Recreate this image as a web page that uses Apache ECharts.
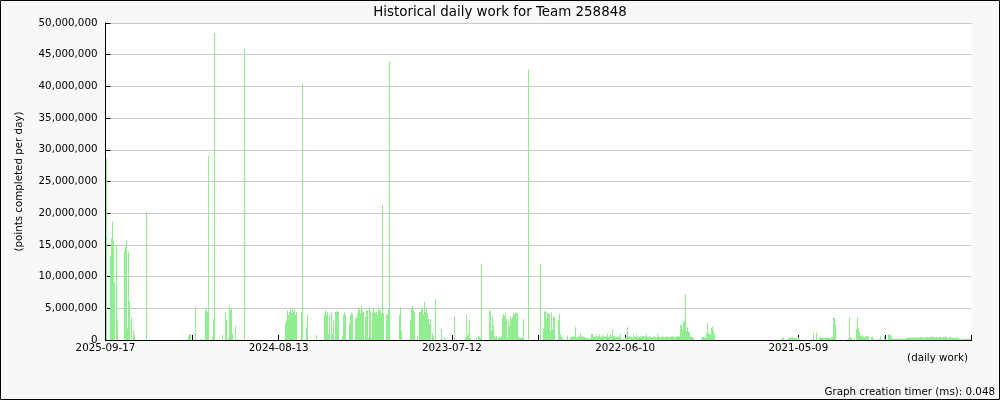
<!DOCTYPE html>
<html>
<head>
<meta charset="utf-8">
<script src="https://cdn.jsdelivr.net/npm/echarts@6/dist/echarts.min.js"></script>
<style>
  html, body { margin: 0; padding: 0; background: #f8f8f8; }
  #chart { width: 1000px; height: 400px; }
</style>
</head>
<body>
<div id="chart"></div>
<script>
// ---- Data ----
// The x axis is split into 866 sample bins (one per plotted column),
// running from 2025-09-17 (bin 0) backwards in time.
// Each run: [first bin, [daily work in millions of points for consecutive bins]]
const titleText = 'Historical daily work for Team 258848';
const xTickLabels = ['2025-09-17', '2024-08-13', '2023-07-12', '2022-06-10', '2021-05-09'];
const totalBins = 866;
const xTickCount = 10;
const yMax = 50000000;
const yStep = 5000000;

const work2025 = [
  [1, [28.7]],
  [5, [13.3, 16.0, 18.75, 15.6, 9.06, 0, 15.0, 3.1]],
  [19, [14.06, 14.7, 15.8, 1.8, 13.96, 6.1, 0, 3.5, 0, 1.56, 0.83]],
  [41, [20.3]],
  [83, [0.5, 0.94, 0.94]],
  [90, [5.3]],
  [96, [0.2]],
  [100, [4.7, 4.9, 4.4, 29.0]],
  [107, [0.5, 3.3, 48.4]],
  [117, [0.8]],
  [120, [4.4, 3.1, 0, 0.3, 5.3, 4.7, 4.9, 1.0]],
  [130, [2.2]],
  [139, [45.85]]
];
const work2024 = [
  [179, [0.1, 2.7, 3.2, 4.7, 3.9, 4.4, 4.8, 4.2, 5.0, 4.5, 4.8, 4.0, 4.4]],
  [196, [4.4, 40.4]],
  [201, [2.0, 4.0]],
  [211, [0.8]],
  [219, [4.2, 4.7, 4.0, 4.4, 1.05, 3.9, 0, 4.3, 1.0, 3.05, 0, 4.4, 4.5, 4.5, 4.4]],
  [237, [0.7, 3.9, 4.4, 4.0]],
  [244, [2.6, 3.9, 4.3, 4.1]],
  [250, [3.3, 3.6, 4.2, 5.2, 4.8, 4.2, 5.4, 4.7, 4.4, 0, 3.6, 4.8, 4.6, 0.4, 5.2, 4.6, 0.3, 4.3, 5.0, 4.4,
         4.3, 4.5, 3.9, 5.3, 4.6, 4.7, 4.2, 21.3, 4.2, 0, 0, 4.0, 4.1, 4.8, 44.0]],
  [294, [4.0, 5.2, 1.5]],
  [305, [3.2, 5.0, 5.4, 4.7, 4.4]],
  [312, [0.6, 0, 4.4, 4.4, 5.0, 5.0, 4.1, 6.0, 4.4, 5.0, 4.2, 3.3, 2.5, 3.3, 0, 1.05, 0.6, 0, 6.5]],
  [336, [1.7, 0.2, 0, 0.4, 0.2]],
  [349, [3.8]]
];
const work2023 = [
  [360, [0.4, 4.0, 0.7, 1.05, 3.05, 0.3]],
  [371, [0.4, 0, 0.6, 0.6, 0.3, 12.0]],
  [384, [4.6, 4.6, 1.5, 3.7, 2.3, 0.6, 0.4, 0.6, 0, 0.4, 0.6, 0.3, 0.7, 3.5, 4.1, 3.8, 4.2, 3.3, 0.4, 3.05,
         2.2, 3.7, 3.3, 3.6, 4.3, 4.0, 4.3, 4.3, 4.2, 0.5, 0.4, 0.3, 0.4, 0.4, 3.3]],
  [423, [42.7]],
  [435, [12.0, 0, 0, 1.8, 4.5, 4.5, 3.2, 4.3, 4.1, 4.1, 1.5, 4.3, 1.7, 3.7, 3.7]],
  [453, [3.2, 4.1, 0.95, 0.5, 0.4]],
  [462, [0.7]]
];
const work2022 = [
  [465, [0.4, 0.5, 0.6, 0.5, 0.6, 2.0, 0.4, 0.5, 0.6, 0.5, 1.05, 0.6, 0.5, 0.6, 0.5, 0.4, 0.3, 0.2, 0.3, 0.2,
         0.2, 0.95, 0.95, 0.5, 0.6, 0.5, 0.85, 0.5, 0.6, 0.85, 0.5, 0.5, 0.85, 0.6, 0.6, 0.5, 0.6, 1.05, 0.5, 0.5,
         0.95, 0.6, 1.7, 0.6, 0.6, 0.5, 0.5, 0.5, 0.5, 0.6, 0.95, 0.2]],
  [518, [0.2, 0, 0.4, 0.5, 2.0, 0.6, 0.6, 0.5, 0.5, 0.3, 0.85, 0.5, 0.5, 0.85, 0.5, 0.5, 0.5, 0.6, 0.6, 0.6,
         0.6, 0.6, 0.6, 0.95, 0.5, 0.45, 0.5, 0.55, 0.5, 0.4, 0.5, 0.55, 0.5, 0.45, 0.95, 0.5, 0.55, 0.45, 0.5, 0.6,
         0.5, 0.45, 0.5, 0.55, 0.5, 0.45, 0.5, 0.5, 0.55, 0.6, 0.5, 0.45, 0.5, 0.55, 0.6, 0.5, 0.6, 2.3, 2.6, 1.7,
         2.9, 3.05, 7.2, 1.4, 2.0, 1.3, 1.3, 0.5, 0.5, 0.5, 0.3]],
  [596, [0.3, 0.5, 0.5, 0.5, 0.3, 1.05, 2.7, 0.95, 0.95, 0.85, 1.9, 2.1, 1.4, 0.95]]
];
const work2021 = [
  [677, [0.4, 0.3]],
  [683, [0.3, 0.4, 0.4, 0.3, 0.5, 0.3, 0.3, 0.3, 0.3, 0, 0.4, 0.2]],
  [706, [0.1, 0, 1.15, 0, 0, 1.15, 0, 0.2, 0.3, 0.5, 0.3, 0.4, 0.3, 0.3, 0.4, 0.3, 0.3, 0.4, 0.3, 0.3,
         0.4, 0.5, 3.6, 3.5, 2.5]],
  [742, [0.1, 0.2, 3.5, 0.4, 0.3, 0.1, 0, 0.3, 0, 1.7, 3.5, 1.9, 1.3, 0.7, 0.6, 0.7, 0.5, 0.4, 0.6, 0.6,
         0.6, 0.6, 0, 0, 0.5, 0.5, 0.2, 0, 0, 0.2, 0, 0, 0.2, 0.6, 0.1, 0, 0, 0.7, 0.1, 0,
         0, 0.85, 0.85, 0.85, 0.6]],
  [787, [0.2, 0.2, 0.2, 0.2, 0.2, 0.2, 0.2, 0.2, 0.2, 0.2, 0.2, 0.2, 0.2, 0.2, 0.3, 0.3, 0.4, 0.4, 0.4, 0.4,
         0.4, 0.4, 0.4, 0.4, 0.45, 0.4, 0.35, 0.45, 0.5, 0.4, 0.4, 0.45, 0.35, 0.4, 0.5, 0.4, 0.45, 0.4, 0.4, 0.6,
         0.45, 0.5, 0.4, 0.45, 0.5, 0.4, 0.45, 0.5, 0.45, 0.4, 0.45, 0.5, 0.45, 0.6, 0.4, 0.4, 0.4, 0.4, 0.6, 0.3,
         0.3, 0.3, 0.3, 0.4, 0.3, 0.5, 0.3, 0.2, 0.2, 0, 0.2, 0.2, 0.2, 0.2, 0.2, 0.2, 0.2, 0.2]]
];

// ---- Build series data ----
const seriesData = [];
[work2025, work2024, work2023, work2022, work2021].forEach(function (group) {
  group.forEach(function (run) {
    const start = run[0];
    run[1].forEach(function (v, i) {
      if (v > 0) seriesData.push([start + i, v * 1000000]);
    });
  });
});

const tickStep = totalBins / xTickCount;
const FONT = 'DejaVu Sans';

const chart = echarts.init(document.getElementById('chart'), null, { renderer: 'canvas' });
chart.setOption({
  animation: false,
  backgroundColor: '#f8f8f8',
  title: {
    text: titleText,
    left: 'center',
    top: 1,
    textStyle: { fontFamily: FONT, fontSize: 13.4, fontWeight: 'normal', color: '#000' }
  },
  grid: {
    left: 105.5,
    top: 23,
    width: totalBins,
    height: 317,
    show: true,
    backgroundColor: '#ffffff',
    borderWidth: 0,
    containLabel: false
  },
  xAxis: {
    type: 'value',
    min: 0,
    max: totalBins,
    interval: tickStep,
    axisLine: { show: true, onZero: false, lineStyle: { color: '#000', width: 1 } },
    axisTick: { show: true, inside: true, length: 5, lineStyle: { color: '#000' } },
    splitLine: { show: false },
    axisLabel: {
      show: true,
      margin: 3,
      fontFamily: FONT,
      fontSize: 10.3,
      color: '#000',
      showMinLabel: true,
      showMaxLabel: true,
      formatter: function (v) {
        const idx = Math.round(v / tickStep);
        if (idx % 2 !== 0) return '';
        return xTickLabels[idx / 2] || '';
      }
    }
  },
  yAxis: {
    type: 'value',
    min: 0,
    max: yMax,
    interval: yStep,
    name: '(points completed per day)',
    nameLocation: 'middle',
    nameGap: 81,
    nameRotate: 90,
    nameTextStyle: { fontFamily: FONT, fontSize: 10.3, color: '#000' },
    axisLine: { show: true, lineStyle: { color: '#000', width: 1 } },
    axisTick: { show: true, inside: true, length: 5, lineStyle: { color: '#000' } },
    splitLine: { show: true, lineStyle: { color: '#c8c8c8', width: 1 } },
    axisLabel: {
      margin: 8,
      fontFamily: FONT,
      fontSize: 10.3,
      color: '#000',
      formatter: function (v) { return v.toLocaleString('en-US'); }
    }
  },
  series: [{
    type: 'bar',
    data: seriesData,
    barWidth: 1,
    itemStyle: { color: '#90ee90' },
    emphasis: { disabled: true },
    z: 1
  }],
  graphic: [
    {
      type: 'text',
      right: 32,
      top: 353,
      style: { text: '(daily work)', fontFamily: FONT, fontSize: 10.3, fill: '#000' }
    },
    {
      type: 'text',
      right: 5,
      top: 387,
      style: { text: 'Graph creation timer (ms): 0.048', fontFamily: FONT, fontSize: 10.3, fill: '#000' }
    },
    {
      type: 'rect',
      shape: { x: 0.5, y: 0.5, width: 999, height: 399 },
      style: { fill: 'none', stroke: '#000', lineWidth: 1 },
      z: 100
    }
  ]
});
</script>
</body>
</html>
